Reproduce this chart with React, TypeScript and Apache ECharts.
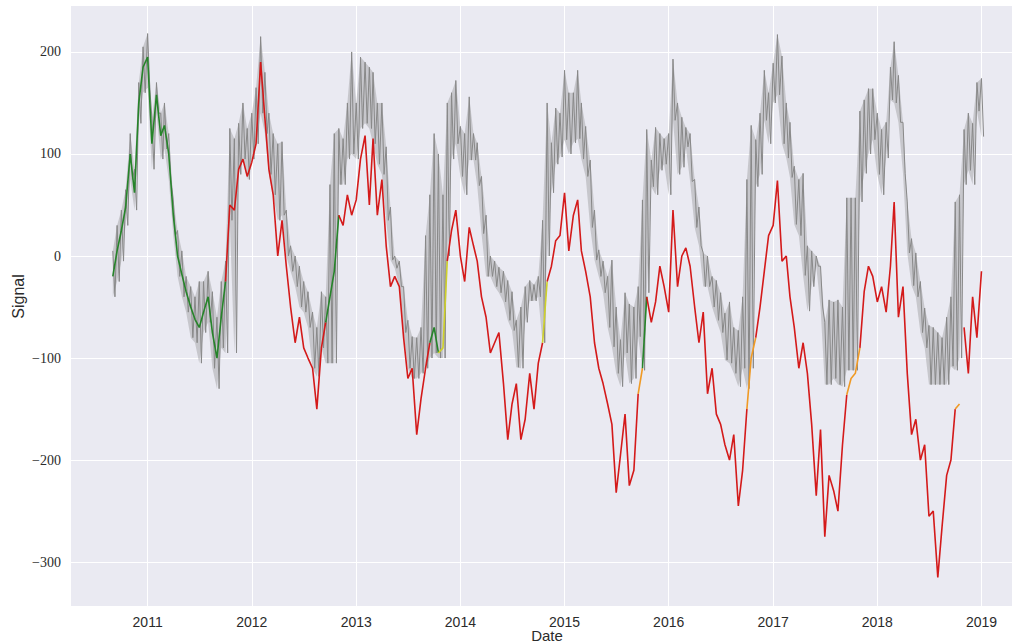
import React, { useEffect, useRef } from "react";
import * as echarts from "echarts";

// Half-monthly samples (1st and 16th of each month) starting 2010-09-01, ending 2019-01-01
const START_YEAR = 2010;
const START_MONTH = 8; // September (0-based)

// Coloured signal line
const signal: number[] = [
  -20, 5, 25, 48, 100, 62, 150, 185, 195, 110, 158, 118, 128, 100, 40, 0, -18, -35, -50, -62,
  -70, -55, -40, -75, -100, -60, -25, 50, 45, 85, 95, 78, 92, 110, 190, 135, 85, 60, 0, 35,
  -10, -50, -85, -60, -90, -100, -110, -150, -90, -65, -40, -15, 40, 30, 60, 40, 55, 95, 118, 50,
  115, 40, 75, 10, -30, -20, -30, -80, -120, -110, -175, -140, -110, -85, -70, -95, -90, -5, 25, 45,
  0, -25, 28, 10, -5, -40, -60, -95, -85, -75, -125, -180, -145, -125, -180, -160, -115, -150, -105, -85,
  -25, -10, 15, 20, 62, 5, 40, 55, 5, -15, -40, -85, -110, -125, -145, -165, -232, -195, -155, -225,
  -210, -135, -110, -40, -65, -45, -10, -30, -55, 45, -30, 0, 8, -10, -50, -85, -55, -135, -110, -155,
  -165, -185, -200, -175, -245, -210, -150, -100, -80, -50, -15, 20, 30, 74, -5, 0, -40, -70, -110, -85,
  -115, -165, -235, -170, -275, -215, -230, -250, -185, -136, -120, -115, -90, -35, -10, -20, -45, -30, -55, -10,
  53, -60, -30, -115, -175, -160, -200, -185, -255, -250, -315, -265, -215, -200, -150, -145, -70, -115, -40, -80,
  -15,
];

// Class of each sample as run lengths: G = green, R = red, Y = yellow, O = orange
const signalClassRuns: [string, number][] = [
  ["G", 26], ["R", 23], ["G", 3], ["R", 21], ["G", 2], ["Y", 2], ["R", 22], ["Y", 1],
  ["R", 21], ["O", 1], ["G", 1], ["R", 23], ["O", 2], ["R", 21], ["O", 3], ["R", 22],
  ["O", 1], ["R", 6],
];

// Break in the coloured line
const signalGaps: string[] = ["2018-10-24"];

// Grey envelope of the raw signal (high / low per half month)
const envelopeHigh: number[] = [
  5, 30, 45, 65, 120, 85, 170, 205, 218, 135, 170, 140, 150, 120, 55, 25, 5, -20, -30, -40,
  -25, -25, -15, -35, -60, -25, -5, 125, 115, 130, 150, 125, 140, 165, 215, 180, 140, 120, 110, 112,
  45, 10, 0, -10, -25, -35, -55, -70, -35, -40, 70, 120, 125, 115, 150, 200, 150, 195, 190, 185,
  180, 150, 150, 107, 48, 0, -5, -30, -63, -79, -80, -70, 20, 60, 120, 100, 60, 150, 160, 172,
  127, 120, 156, 120, 111, 78, 40, 0, -5, -11, -15, -24, -35, -63, -50, -30, -24, -28, -20, 35,
  150, 111, 145, 140, 182, 160, 160, 182, 150, 127, 94, 45, 6, -5, -20, -4, -50, -82, -36, -47,
  -50, -30, 55, 124, 94, 126, 120, 115, 120, 193, 150, 136, 126, 120, 75, 48, 3, 0, -20, -24,
  -36, -56, -45, -70, -73, -40, 75, 128, 114, 140, 182, 160, 189, 217, 196, 150, 131, 88, 75, 81,
  10, 5, 0, -10, -65, -43, -45, -43, -50, 57, 57, 57, 142, 153, 164, 164, 140, 124, 131, 185,
  210, 177, 131, 53, 17, 3, -25, -51, -68, -70, -75, -80, -60, -40, 53, 60, 124, 140, 130, 170,
  174,
];
const envelopeLow: number[] = [
  -40, -25, -5, 30, 75, 45, 130, 160, 165, 85, 140, 95, 105, 75, 20, -20, -40, -55, -80, -85,
  -105, -75, -65, -110, -130, -90, -95, 35, -95, 80, 95, 75, 95, 110, 140, 120, 80, 60, 35, 40,
  0, -15, -30, -50, -55, -70, -110, -118, -90, -105, -105, -105, 70, 70, 95, 100, 95, 125, 130, 125,
  110, 90, 80, 35, -4, -12, -30, -75, -110, -120, -120, -115, -110, -100, -95, -100, -100, 0, 95, 110,
  78, 60, 94, 94, 69, 22, -20, -20, -30, -36, -45, -63, -73, -109, -110, -65, -44, -44, -40, -85,
  0, 62, 90, 97, 114, 100, 111, 115, 95, 78, 28, -4, -20, -36, -70, -89, -115, -128, -95, -125,
  -120, -79, -112, -36, 68, 60, 84, 90, 60, 133, 80, 87, 107, 73, 28, 10, -30, -30, -50, -63,
  -75, -102, -105, -115, -128, -110, -130, -110, 68, 80, 133, 110, 150, 158, 110, 96, 77, 31, 20, -19,
  -54, -30, -10, -50, -126, -126, -120, -126, -128, -112, -112, -112, 53, 81, 100, 114, 80, 60, 96, 153,
  150, 131, 81, 3, -29, -40, -75, -90, -126, -126, -126, -126, -126, -108, -112, -100, 70, 84, 70, 142,
  117,
];

const CLASS_COLORS: Record<string, string> = {
  G: "#26842a",
  R: "#d41a1a",
  Y: "#cfd12a",
  O: "#f09a25",
};

function sampleTime(i: number): number {
  const m = START_MONTH + Math.floor(i / 2);
  return new Date(START_YEAR + Math.floor(m / 12), m % 12, i % 2 ? 16 : 1).getTime();
}

function parseDate(s: string): number {
  const [y, m, d] = s.split("-").map(Number);
  return new Date(y, m - 1, d).getTime();
}

export default function App() {
  const ref = useRef<HTMLDivElement>(null);

  useEffect(() => {
    if (!ref.current) return;
    const chart = echarts.init(ref.current, undefined, { renderer: "svg" });

    const times = signal.map((_, i) => sampleTime(i));
    const classes: string[] = [];
    signalClassRuns.forEach(([c, n]) => {
      for (let k = 0; k < n; k++) classes.push(c);
    });
    const gapTimes = signalGaps.map(parseDate);

    // Build coloured runs
    const colouredSeries: any[] = [];
    let start = 0;
    while (start < signal.length) {
      let end = start;
      while (end + 1 < signal.length && classes[end + 1] === classes[start]) end++;
      const data: any[] = [];
      const last = Math.min(end + 1, signal.length - 1);
      for (let i = start; i <= last; i++) {
        data.push([times[i], signal[i]]);
        if (i < last) {
          gapTimes.forEach((g) => {
            if (g > times[i] && g < times[i + 1]) data.push([g, null]);
          });
        }
      }
      colouredSeries.push({
        type: "line",
        data,
        symbol: "none",
        silent: true,
        connectNulls: false,
        lineStyle: { color: CLASS_COLORS[classes[start]], width: 1.6 },
        z: 5,
      });
      start = end + 1;
    }

    const halfStep = 7.5 * 24 * 3600 * 1000;
    const zigzag: [number, number][] = [];
    envelopeHigh.forEach((h, i) => {
      zigzag.push([times[i], h]);
      zigzag.push([times[i] + halfStep, envelopeLow[i]]);
    });

    const fmtY = (v: number) => {
      if (Math.abs(v % 100) > 1e-6) return "";
      return v < 0 ? "\u2212" + Math.abs(v) : String(v);
    };

    const textColor = "#2b2b2b";

    chart.setOption({
      animation: false,
      backgroundColor: "#ffffff",
      grid: {
        left: 70,
        right: 1,
        top: 5,
        bottom: 37,
        show: true,
        backgroundColor: "#eaeaf2",
        borderWidth: 0,
        containLabel: false,
        outerBoundsMode: "none",
      },
      xAxis: {
        type: "time",
        min: new Date(2010, 3, 4).getTime(),
        max: new Date(2019, 3, 18).getTime(),
        splitNumber: 9,
        minInterval: 365 * 24 * 3600 * 1000,
        axisLine: { show: false },
        axisTick: { show: false },
        splitLine: { show: true, lineStyle: { color: "#ffffff", width: 1 } },
        axisLabel: {
          formatter: (v: number) => {
            const d = new Date(v);
            return d.getMonth() === 0 && d.getDate() === 1 ? String(d.getFullYear()) : "";
          },
          color: textColor,
          fontFamily: "Liberation Sans",
          fontSize: 14,
          margin: 9,
          showMinLabel: false,
          showMaxLabel: false,
        },
        name: "Date",
        nameLocation: "middle",
        nameGap: 21,
        nameMoveOverlap: false,
        nameTextStyle: {
          color: textColor,
          fontFamily: "Liberation Sans",
          fontSize: 15,
          lineHeight: 16,
          padding: [0, 0, 0, 12],
        },
      },
      yAxis: {
        type: "value",
        min: -343,
        max: 246,
        axisLine: { show: false },
        axisTick: { show: false },
        splitLine: { show: true, lineStyle: { color: "#ffffff", width: 1 } },
        axisLabel: {
          formatter: fmtY,
          color: textColor,
          fontFamily: "Liberation Serif",
          fontSize: 14,
          margin: 9,
        },
        name: "Signal",
        nameLocation: "middle",
        nameGap: 44,
        nameMoveOverlap: false,
        nameTextStyle: {
          color: textColor,
          fontFamily: "Liberation Sans",
          fontSize: 16,
          padding: [0, 0, 0, 18],
        },
      },
      series: [
        {
          type: "line",
          data: envelopeLow.map((v, i) => [times[i], v]),
          stack: "env",
          stackStrategy: "all",
          symbol: "none",
          silent: true,
          lineStyle: { opacity: 0 },
          z: 1,
        },
        {
          type: "line",
          data: envelopeHigh.map((v, i) => [times[i], v - envelopeLow[i]]),
          stack: "env",
          stackStrategy: "all",
          symbol: "none",
          silent: true,
          lineStyle: { opacity: 0 },
          areaStyle: { color: "#a9a9ad", opacity: 0.55 },
          z: 1,
        },
        {
          type: "line",
          data: zigzag,
          symbol: "none",
          silent: true,
          lineStyle: { color: "#888888", width: 1 },
          z: 2,
        },
        ...colouredSeries,
      ],
    });

    return () => chart.dispose();
  }, []);

  return (
    <div
      ref={ref}
      style={{ position: "fixed", left: 0, top: 0, width: 1013, height: 643 }}
    />
  );
}
